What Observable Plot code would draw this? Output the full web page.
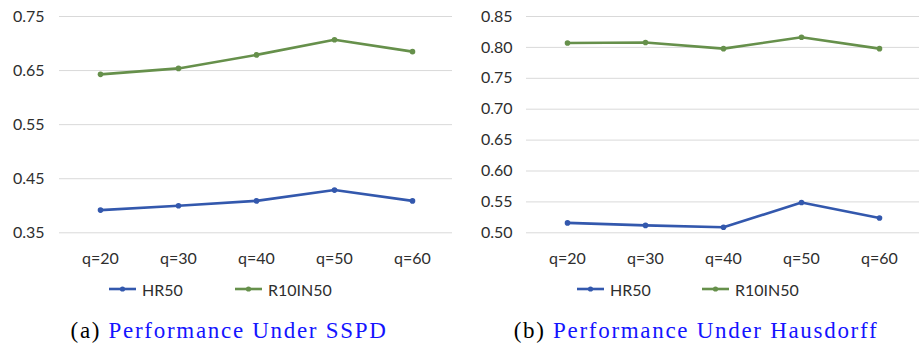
<!DOCTYPE html>
<html>
<head>
<meta charset="utf-8">
<script src="https://cdn.jsdelivr.net/npm/d3@7"></script>
<script src="https://cdn.jsdelivr.net/npm/@observablehq/plot@0.6"></script>
<style>
  html, body { margin: 0; padding: 0; background: #fff; }
  #root { position: relative; width: 919px; height: 345px; overflow: hidden; }
  .panel { position: absolute; top: 0; }
  .legend { position: absolute; top: 279px; height: 20px; font: 16px Lato, sans-serif; color: #2e2e2e; }
  .legend .item { position: absolute; top: 0; display: flex; align-items: center; height: 20px; white-space: nowrap; }
  .legend svg { display: block; margin-right: 6px; }
  .caption { position: absolute; top: 318px; width: 460px; text-align: center; font: 23px "Liberation Serif", serif; letter-spacing: 1.7px; color: #000; white-space: nowrap; }
  .caption .t { color: #1414ff; }
</style>
</head>
<body>
<div id="root"></div>
<script>
const categories = ["q=20", "q=30", "q=40", "q=50", "q=60"];
const seriesNames = ["HR50", "R10IN50"];
const seriesColors = ["#3358ad", "#66904b"];

const sspdHR50 = [0.392, 0.400, 0.409, 0.429, 0.409];
const sspdR10IN50 = [0.643, 0.654, 0.679, 0.707, 0.685];
const sspdTicks = [0.35, 0.45, 0.55, 0.65, 0.75];

const hausHR50 = [0.516, 0.512, 0.509, 0.549, 0.524];
const hausR10IN50 = [0.807, 0.808, 0.798, 0.8165, 0.798];
const hausTicks = [0.50, 0.55, 0.60, 0.65, 0.70, 0.75, 0.80, 0.85];

const captions = [["(a)", "Performance Under SSPD"], ["(b)", "Performance Under Hausdorff"]];

function rows(a, b) {
  const out = [];
  categories.forEach((c, i) => out.push({q: c, v: a[i], s: seriesNames[0]}));
  categories.forEach((c, i) => out.push({q: c, v: b[i], s: seriesNames[1]}));
  return out;
}

function panel(data, ticks, opts) {
  return Plot.plot({
    width: opts.width,
    height: 270,
    marginTop: 16,
    marginBottom: 37.7,
    marginLeft: opts.marginLeft,
    marginRight: opts.marginRight,
    style: {fontFamily: "Lato, sans-serif", fontSize: "16px", color: "#2e2e2e", background: "white"},
    x: {type: "point", domain: categories, padding: 0.5, label: null},
    y: {domain: [ticks[0], ticks[ticks.length - 1]], label: null},
    color: {domain: seriesNames, range: seriesColors},
    marks: [
      Plot.gridY(ticks, {stroke: "#d9d9d9", strokeOpacity: 1, strokeWidth: 1}),
      Plot.axisY(ticks, {tickSize: 0, tickPadding: opts.tickPadding, tickFormat: d3.format(".2f"), label: null}),
      Plot.axisX({tickSize: 0, tickPadding: 19.5, label: null}),
      Plot.line(data, {x: "q", y: "v", z: "s", stroke: "s", strokeWidth: 2.6}),
      Plot.dot(data, {x: "q", y: "v", fill: "s", r: 2.8})
    ]
  });
}

const root = document.getElementById("root");
const panels = [
  {data: rows(sspdHR50, sspdR10IN50), ticks: sspdTicks, left: 0, width: 460, marginLeft: 59, marginRight: 8, tickPadding: 15,
   legend: [109, 235]},
  {data: rows(hausHR50, hausR10IN50), ticks: hausTicks, left: 460, width: 459, marginLeft: 66, marginRight: 0, tickPadding: 14,
   legend: [577, 702]}
];

panels.forEach((p, k) => {
  const div = document.createElement("div");
  div.className = "panel";
  div.style.left = p.left + "px";
  div.appendChild(panel(p.data, p.ticks, p));
  root.appendChild(div);

  const lg = document.createElement("div");
  lg.className = "legend";
  lg.style.left = "0px";
  seriesNames.forEach((name, i) => {
    const it = document.createElement("div");
    it.className = "item";
    it.style.left = p.legend[i] + "px";
    it.innerHTML = `<svg width="27" height="10"><line x1="0" y1="5" x2="27" y2="5" stroke="${seriesColors[i]}" stroke-width="2.6"/><circle cx="13.5" cy="5" r="2.6" fill="${seriesColors[i]}"/></svg><span>${name}</span>`;
    lg.appendChild(it);
  });
  root.appendChild(lg);

  const cap = document.createElement("div");
  cap.className = "caption";
  cap.style.left = (k === 0 ? 229 - 230 : 696 - 230) + "px";
  cap.innerHTML = `${captions[k][0]} <span class="t">${captions[k][1]}</span>`;
  root.appendChild(cap);
});
</script>
</body>
</html>
